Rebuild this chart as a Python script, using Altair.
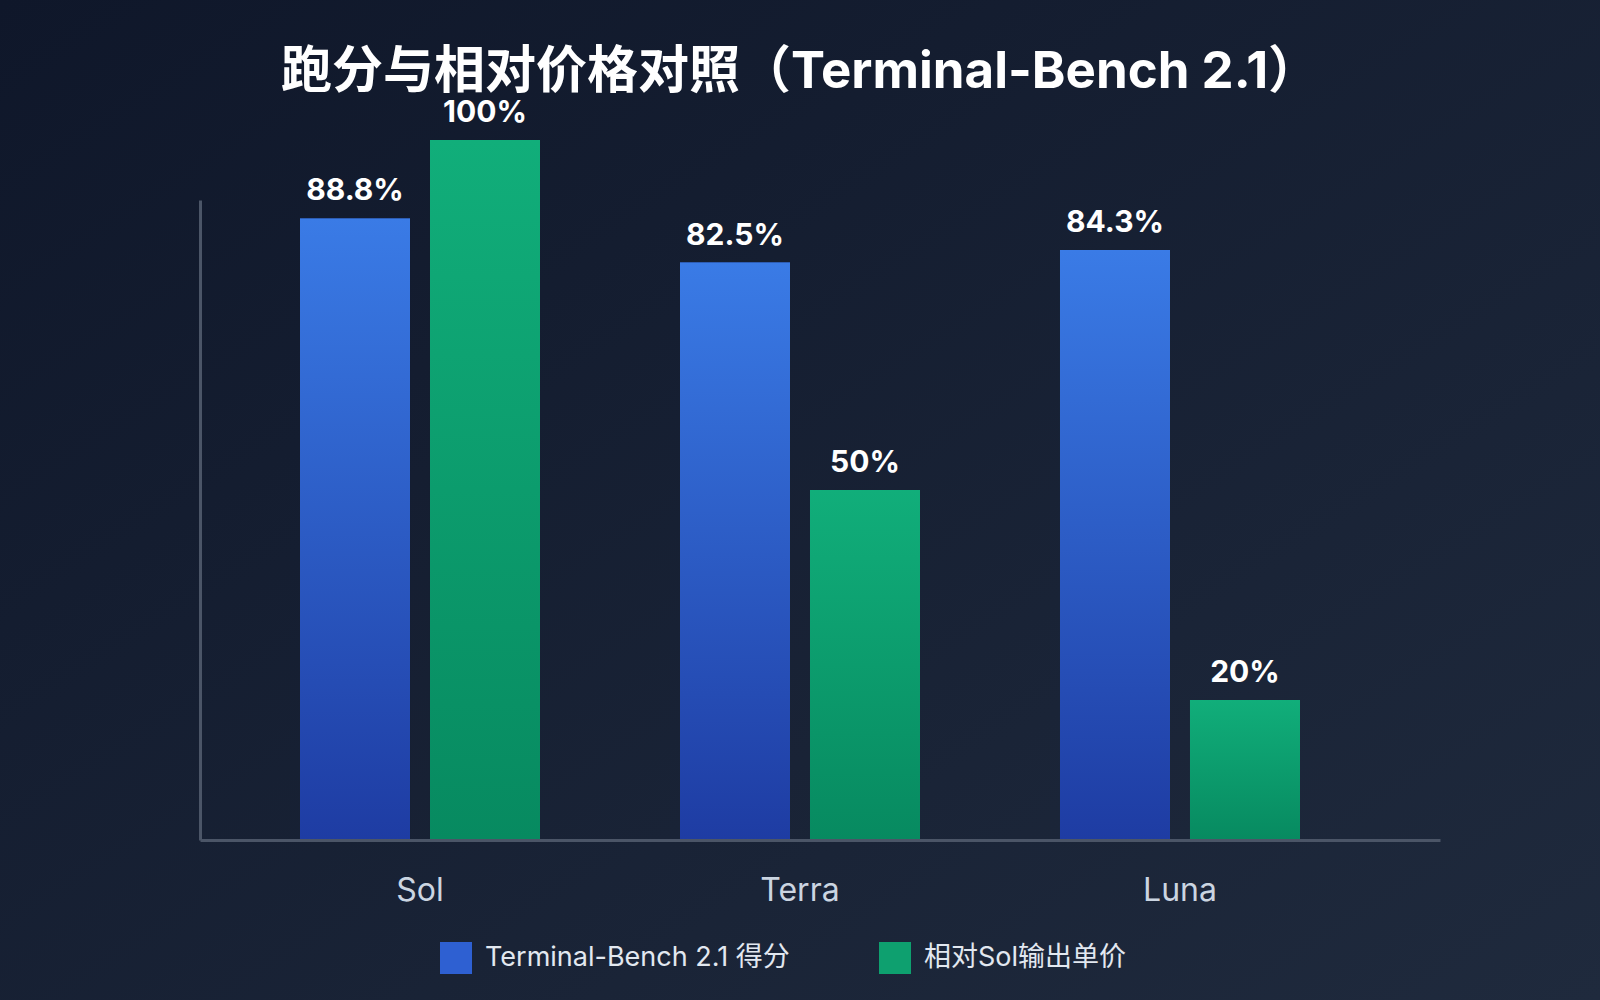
import altair as alt
import pandas as pd

# ---------------- data ----------------
categories = ["Sol", "Terra", "Luna"]
series_names = ["Terminal-Bench 2.1 得分", "相对Sol输出单价"]
scores = [88.8, 82.5, 84.3]
prices = [100, 50, 20]

rows = []
for c, s, p in zip(categories, scores, prices):
    rows.append({"model": c, "series": series_names[0], "value": s, "label": f"{s:g}%"})
    rows.append({"model": c, "series": series_names[1], "value": p, "label": f"{p:g}%"})
df = pd.DataFrame(rows)

FONT = "Inter, 'Noto Sans CJK SC', sans-serif"
AXIS_COLOR = "#4b5567"


def vgrad(top, bottom):
    return {"gradient": "linear", "x1": 0, "y1": 0, "x2": 0, "y2": 1,
            "stops": [{"offset": 0, "color": top}, {"offset": 1, "color": bottom}]}


blue_grad = vgrad("#3a7be6", "#1e3ca3")
green_grad = vgrad("#11ae7a", "#078a60")
bg_grad = {"gradient": "linear", "x1": 0, "y1": 0, "x2": 1, "y2": 1,
           "stops": [{"offset": 0, "color": "#0f172a"}, {"offset": 1, "color": "#1f2a3d"}]}

base = alt.Chart(df).encode(
    x=alt.X("model:N", sort=categories,
            scale=alt.Scale(paddingInner=0, paddingOuter=0.1316, align=0.3),
            axis=alt.Axis(title=None, labelAngle=0, ticks=False, grid=False,
                          labelPadding=35, labelFontSize=32, labelColor="#cbd5e1",
                          labelFont=FONT, domainColor=AXIS_COLOR, domainWidth=3,
                          zindex=1)),
    xOffset=alt.XOffset("series:N", sort=series_names,
                        scale=alt.Scale(paddingInner=0.1538, paddingOuter=0.5385)),
    y=alt.Y("value:Q", scale=alt.Scale(domain=[0, 91.43], nice=False, zero=True),
            axis=alt.Axis(title=None, labels=False, ticks=False, grid=False,
                          domainColor=AXIS_COLOR, domainWidth=3, zindex=1)),
)

bg = alt.Chart(pd.DataFrame({"bg": [0]})).mark_rect(color=bg_grad).encode(
    x=alt.value(-200), x2=alt.value(1400), y=alt.value(-200), y2=alt.value(800)
)

legend = alt.Legend(
    title=None, orient="none", legendX=240, legendY=742, direction="horizontal",
    symbolType="square", symbolSize=1024, symbolStrokeWidth=0, symbolOpacity=1,
    labelFontSize=27, labelColor="#e2e8f0", labelFont=FONT, labelOffset=13,
    labelLimit=600, columnPadding=89, padding=0,
)

bars_base = base.mark_bar().encode(
    color=alt.Color("series:N", sort=series_names,
                    scale=alt.Scale(domain=series_names, range=["#2e60d2", "#0ea06f"]),
                    legend=legend)
)

bars_grad = base.mark_bar().encode(
    color=alt.condition(f"datum.series === '{series_names[0]}'",
                        alt.value(blue_grad), alt.value(green_grad))
)

labels = base.mark_text(dy=-18, baseline="alphabetic", align="center", fontSize=30,
                        fontWeight="bold", color="white", font=FONT).encode(
    text="label:N"
)

chart = alt.layer(bg, bars_base, bars_grad, labels).properties(
    width=1240, height=640,
    padding={"left": 200, "top": 200, "right": 160, "bottom": 160},
    autosize=alt.AutoSizeParams(type="none"),
    background="#0f172a",
    title=alt.TitleParams(text="跑分与相对价格对照（Terminal-Bench 2.1）", fontSize=51,
                          fontWeight="bold", color="white", font=FONT,
                          anchor="middle", dx=-20, offset=-139, baseline="alphabetic"),
).configure_view(stroke="transparent")

chart.save("out.html", embed_options={"renderer": "svg", "actions": False})
